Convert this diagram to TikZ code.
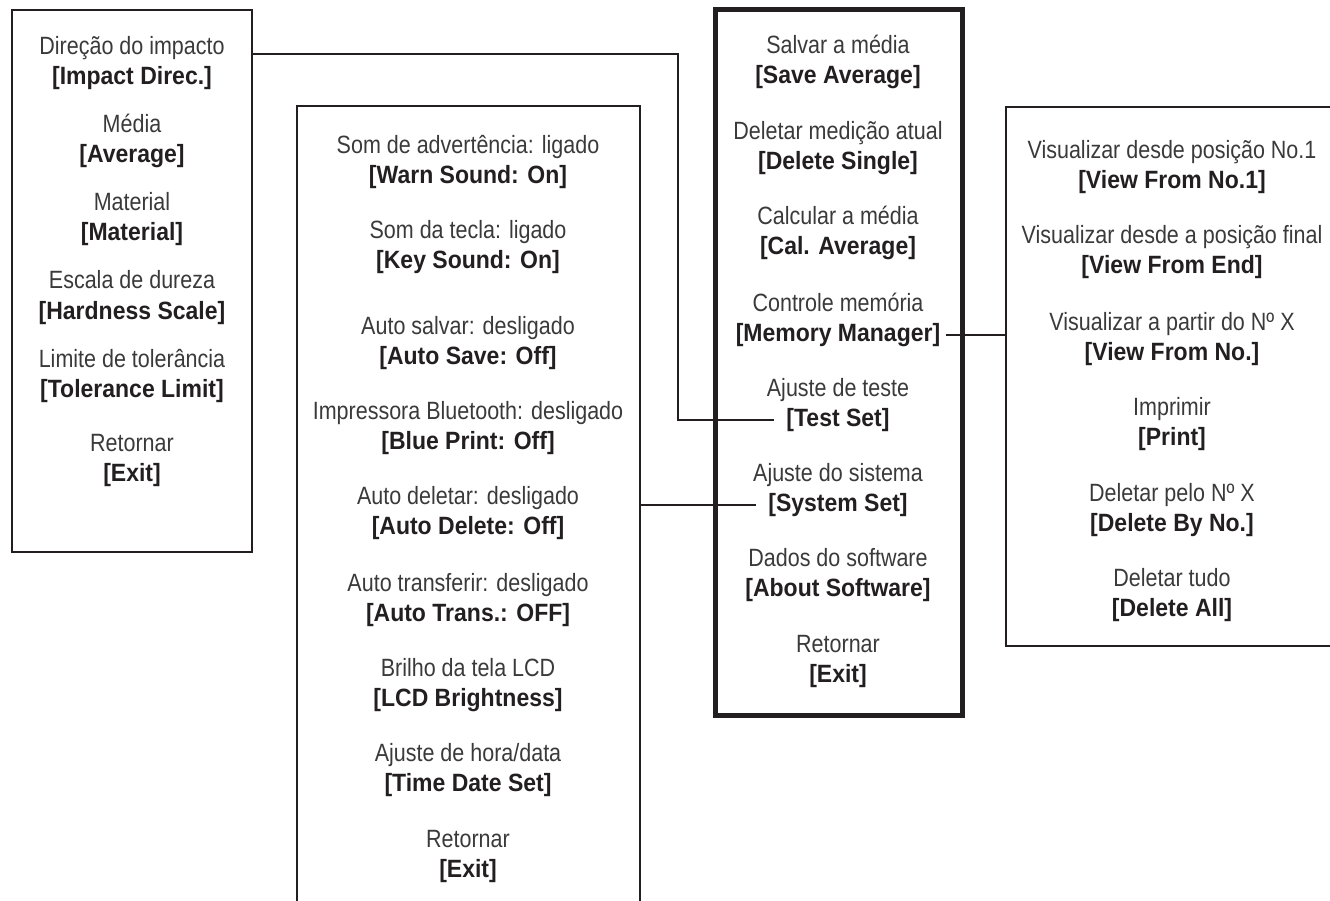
\documentclass[tikz,border=0pt]{standalone}
\usepackage{fontspec}
\newfontfamily\normf{Liberation Sans}[FakeStretch=0.86]
\newfontfamily\boldf{Liberation Sans}[FakeStretch=0.92]
\definecolor{ink}{HTML}{231F20}
\definecolor{txt}{HTML}{3A3A3A}
\tikzset{
  box/.style={draw=ink, line width=2pt, inner sep=0pt, outer sep=0pt},
  mainbox/.style={box, line width=5pt},
  nt/.style={font=\normf\fontsize{25}{30}\selectfont, text=txt, inner sep=0pt, anchor=base},
  bt/.style={font=\boldf\bfseries\fontsize{25}{30}\selectfont, text=ink, inner sep=0pt, anchor=base},
  conn/.style={draw=ink, line width=2pt}
}
\newcommand{\mnu}[5]{%
  \node[nt] (#1a) at (#2,#3+9) {#4};
  \node[bt] (#1b) at (#2,#3+39) {#5};}
\begin{document}
\begin{tikzpicture}[x=1pt,y=-1pt]
\useasboundingbox (0,0) rectangle (1330,901);
\clip (0,0) rectangle (1330,901);
% boxes
\node[box, minimum width=240, minimum height=542] (Lbox) at (132,281) {};
\node[box, minimum width=343, minimum height=824] (Mbox) at (468.5,518) {};
\node[mainbox, minimum width=247, minimum height=705] (Cbox) at (838.5,362.5) {};
\node[box, minimum width=344, minimum height=539] (Rbox) at (1178,376.5) {};
% left box
\mnu{L1}{132}{46}{Direção do impacto}{[Impact Direc.]}
\mnu{L2}{132}{124}{Média}{[Average]}
\mnu{L3}{132}{202}{Material}{[Material]}
\mnu{L4}{132}{280}{Escala de dureza}{[Hardness Scale]}
\mnu{L5}{132}{358}{Limite de tolerância}{[Tolerance Limit]}
\mnu{L6}{132}{442}{Retornar}{[Exit]}
% system set box
\mnu{S1}{468}{145}{Som de advertência: ligado}{[Warn Sound: On]}
\mnu{S2}{468}{230}{Som da tecla: ligado}{[Key Sound: On]}
\mnu{S3}{468}{325}{Auto salvar: desligado}{[Auto Save: Off]}
\mnu{S4}{468}{410}{Impressora Bluetooth: desligado}{[Blue Print: Off]}
\mnu{S5}{468}{495}{Auto deletar: desligado}{[Auto Delete: Off]}
\mnu{S6}{468}{582}{Auto transferir: desligado}{[Auto Trans.: OFF]}
\mnu{S7}{468}{667}{Brilho da tela LCD}{[LCD Brightness]}
\mnu{S8}{468}{752}{Ajuste de hora/data}{[Time Date Set]}
\mnu{S9}{468}{838}{Retornar}{[Exit]}
% main box
\mnu{C1}{838}{45}{Salvar a média}{[Save Average]}
\mnu{C2}{838}{131}{Deletar medição atual}{[Delete Single]}
\mnu{C3}{838}{216}{Calcular a média}{[Cal. Average]}
\mnu{C4}{838}{302}{Controle memória}{[Memory Manager]}
\mnu{C5}{838}{387}{Ajuste de teste}{[Test Set]}
\mnu{C6}{838}{472}{Ajuste do sistema}{[System Set]}
\mnu{C7}{838}{557}{Dados do software}{[About Software]}
\mnu{C8}{838}{643}{Retornar}{[Exit]}
% memory box
\mnu{R1}{1172}{150}{Visualizar desde posição No.1}{[View From No.1]}
\mnu{R2}{1172}{235}{Visualizar desde a posição final}{[View From End]}
\mnu{R3}{1172}{321}{Visualizar a partir do Nº X}{[View From No.]}
\mnu{R4}{1172}{406}{Imprimir}{[Print]}
\mnu{R5}{1172}{492}{Deletar pelo Nº X}{[Delete By No.]}
\mnu{R6}{1172}{577}{Deletar tudo}{[Delete All]}
% connectors
\draw[conn] (Lbox.east |- 0,54) -- (678,54) |- ([xshift=-12pt]C5b.west);
\draw[conn] (Mbox.east |- C6b.west) -- ([xshift=-12pt]C6b.west);
\draw[conn] ([xshift=6pt]C4b.east) -- (Rbox.west |- C4b.east);
\end{tikzpicture}
\end{document}
